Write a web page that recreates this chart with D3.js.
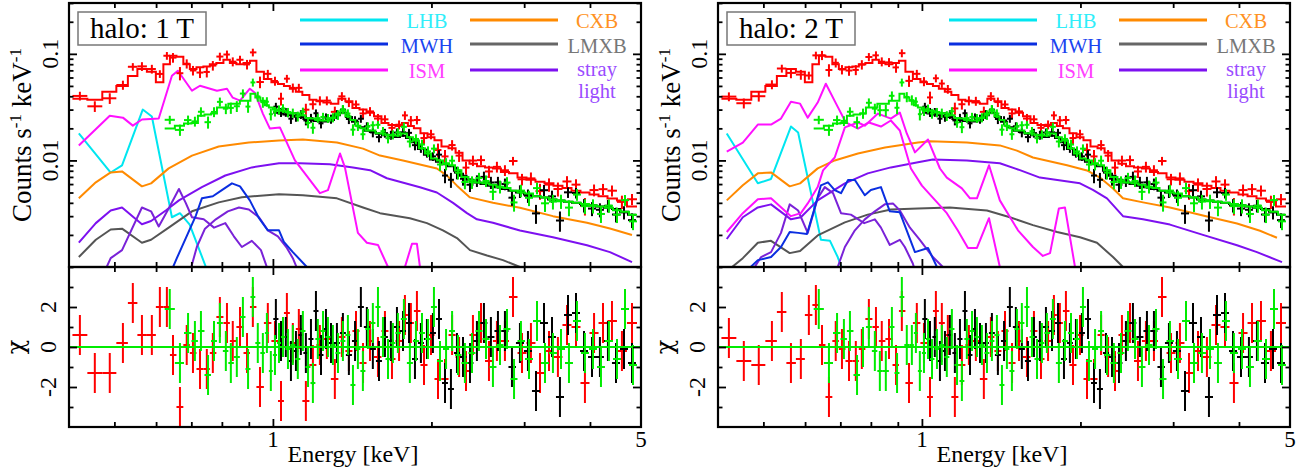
<!DOCTYPE html>
<html>
<head>
<meta charset="utf-8">
<script src="https://cdn.jsdelivr.net/npm/d3@7"></script>
<style>
  body { margin: 0; background: #fff; }
  text { font-family: "Liberation Serif", "Times New Roman", serif; }
</style>
</head>
<body>
<div id="chart"></div>
<script>
// Spectra from three detectors: bin centres (keV), total model (counts/s/keV),
// fractional error, and chi residuals for the 1T fit and the 2T fit
const redE = [0.430, 0.459, 0.490, 0.519, 0.542, 0.564, 0.589, 0.610, 0.629, 0.646, 0.666, 0.686, 0.705, 0.727, 0.749, 0.769, 0.793, 0.818, 0.839, 0.866, 0.893, 0.916, 0.945,
  0.978, 1.009, 1.036, 1.063, 1.091, 1.120, 1.155, 1.191, 1.228, 1.266,
  1.311, 1.352, 1.394, 1.438, 1.483, 1.529, 1.583, 1.632, 1.683, 1.736, 1.781, 1.828, 1.877, 1.936, 1.996, 2.058, 2.122, 2.189, 2.257, 2.326,
  2.398, 2.484, 2.572, 2.663, 2.758, 2.857, 2.972, 3.090, 3.215, 3.344, 3.477, 3.618, 3.763, 3.913, 4.072, 4.235, 4.404, 4.600, 4.807];
const redM = [0.038, 0.037, 0.044, 0.050, 0.062, 0.072, 0.068, 0.054, 0.080, 0.096, 0.094, 0.080, 0.072, 0.075, 0.076, 0.080, 0.082, 0.088, 0.082, 0.080, 0.082, 0.086, 0.068,
  0.058, 0.054, 0.052, 0.050, 0.047, 0.044, 0.041, 0.037, 0.036, 0.035,
  0.034, 0.038, 0.036, 0.031, 0.030, 0.028, 0.026, 0.0225, 0.0215, 0.021, 0.0225, 0.021, 0.020, 0.018, 0.0165, 0.0155, 0.0135, 0.0130, 0.0118, 0.0100,
  0.0093, 0.0088, 0.0086, 0.0084, 0.0078, 0.0076, 0.0069, 0.0066, 0.0063, 0.0061, 0.0058, 0.0055, 0.0052, 0.0050, 0.0048, 0.0046, 0.0044, 0.0042, 0.0037];
const redR = [0.10, 0.10, 0.10, 0.10, 0.10, 0.10, 0.10, 0.10, 0.10, 0.10, 0.10, 0.10, 0.10, 0.10, 0.10, 0.10, 0.10, 0.10, 0.10, 0.10, 0.10, 0.10, 0.10,
  0.10, 0.10, 0.10, 0.10, 0.10, 0.10, 0.10, 0.10, 0.10, 0.10,
  0.10, 0.10, 0.10, 0.10, 0.10, 0.10, 0.10, 0.10, 0.10, 0.10, 0.11, 0.11, 0.11, 0.11, 0.11, 0.12, 0.12, 0.12, 0.12, 0.12,
  0.12, 0.12, 0.12, 0.12, 0.12, 0.12, 0.12, 0.14, 0.14, 0.14, 0.14, 0.14, 0.14, 0.14, 0.14, 0.14, 0.14, 0.14, 0.14];
const redChi1 = [0.6, -1.3, -1.3, 0.2, 2.2, 0.6, 0.6, 2.0, 2.0, -0.4, -3.0, 0.1, -0.3, -1.1, -1.1, -0.3, 1.5, 1.2, 0.3, 1.0, -0.3, 2.0, -2.0,
  1.2, 0.3, -2.7, 1.7, 0.2, 0.9, -2.7, -0.9, 0.1, 0.4,
  -1.6, 0.5, -0.2, 0.8, -0.8, 0.3, -0.5, 0.8, -0.6, 0.3, 1.6, 1.2, 1.8, -0.9, 0.6, -1.6, -1.6, 0.6, -0.5, -1.2,
  0.6, 1.2, -0.7, 0.3, 0.3, 2.5, -0.3, 0.2, -1.3, -0.2, -0.5, 1.1, 1.0, -1.8, 0.7, 1.2, 1.3, -0.2, 1.2];
const redChi2 = [0.45, -0.7, -0.9, 0.3, 1.75, -0.8, -0.6, 1.6, 2.1, 0.1, -2.5, 0.3, -0.1, -0.7, -0.7, -0.1, 1.4, 1.0, 0.3, 0.4, -0.9, 1.8, -1.8,
  1.2, 0.2, -2.5, 1.8, 1.2, 0.6, -2.5, -0.9, 0.1, 0.3,
  -1.6, 0.5, -0.2, 0.8, -0.8, 0.3, -0.5, 0.8, -0.6, 0.3, 1.6, 1.2, 1.8, -0.9, 0.6, -1.6, -1.6, 0.6, -0.5, -1.2,
  0.6, 1.2, -0.7, 0.3, 0.3, 2.5, -0.3, 0.2, -1.3, -0.2, -0.5, 1.1, 1.0, -1.8, 0.7, 1.2, 1.3, -0.2, 1.2];

const greenE = [0.637, 0.666, 0.690, 0.711, 0.730, 0.753, 0.773, 0.793, 0.814, 0.832, 0.854, 0.877, 0.897, 0.916, 0.936, 0.957, 0.974, 0.991, 1.009,
  1.027, 1.045, 1.068, 1.091, 1.115, 1.140, 1.166, 1.191, 1.217, 1.245, 1.272, 1.300, 1.329, 1.358, 1.388, 1.419, 1.450, 1.482, 1.515, 1.548, 1.583, 1.618, 1.654, 1.690, 1.727,
  1.773, 1.820, 1.869, 1.919, 1.970, 2.022, 2.076, 2.132, 2.189, 2.246,
  2.315, 2.388, 2.462, 2.539, 2.617, 2.699, 2.783, 2.870, 2.958, 3.064, 3.173, 3.286, 3.402, 3.524, 3.649, 3.779, 3.913, 4.053, 4.197, 4.346, 4.502, 4.662, 4.828];
const greenM = [0.0199, 0.0212, 0.0222, 0.0225, 0.0263, 0.0270, 0.0276, 0.0313, 0.0313, 0.0341, 0.0341, 0.0364, 0.0364, 0.0423, 0.0390, 0.0364, 0.0330, 0.0313, 0.0300,
  0.0293, 0.0293, 0.0285, 0.0276, 0.0276, 0.0265, 0.0250, 0.0247, 0.0240, 0.0237, 0.0237, 0.0250, 0.0276, 0.0293, 0.0260, 0.0240, 0.0212, 0.0200, 0.0191, 0.0191, 0.0180, 0.0179, 0.0172, 0.0171, 0.0171,
  0.0179, 0.0165, 0.0154, 0.0130, 0.0116, 0.0104, 0.0100, 0.0094, 0.0090, 0.0081,
  0.0070, 0.0065, 0.0062, 0.0061, 0.0059, 0.0056, 0.0055, 0.0052, 0.0050, 0.0049, 0.0046, 0.0045, 0.0043, 0.0042, 0.0041, 0.0040, 0.0039, 0.0038, 0.0037, 0.0036, 0.0034, 0.0033, 0.0031];
const greenR = [0.11, 0.11, 0.11, 0.11, 0.11, 0.11, 0.11, 0.11, 0.11, 0.11, 0.11, 0.11, 0.11, 0.11, 0.11, 0.11, 0.11, 0.11, 0.10,
  0.10, 0.10, 0.10, 0.10, 0.10, 0.10, 0.10, 0.10, 0.10, 0.10, 0.10, 0.10, 0.10, 0.10, 0.10, 0.10, 0.10, 0.10, 0.10, 0.10, 0.10, 0.10, 0.10, 0.10, 0.10,
  0.11, 0.11, 0.11, 0.12, 0.12, 0.12, 0.12, 0.13, 0.13, 0.13,
  0.13, 0.13, 0.13, 0.13, 0.14, 0.14, 0.14, 0.14, 0.14, 0.15, 0.15, 0.15, 0.15, 0.15, 0.15, 0.15, 0.15, 0.15, 0.15, 0.15, 0.15, 0.15, 0.15];
const greenChi1 = [1.9, -0.8, 0.7, 0.3, 0.8, -1.4, 0.3, 1.2, -0.2, -0.8, -0.5, 1.5, -1.1, 2.5, 0.2, -0.3, 0.7, -1.2, -0.4,
  0.2, 0.5, -0.1, 0.1, -0.6, 0.8, -1.0, -1.8, 0.4, 0.8, 0.5, 0.1, -0.3, 0.3, 0.6, -1.9, -0.1, -1.2, 0.9, 1.2, 2.0, 0.5, -0.6, 0.2, 0.7,
  1.4, -0.8, 0.3, 0.7, 0.4, 2.0, -0.7, -0.1, 0.8, -0.4,
  -0.8, -0.3, 0.8, 0.4, -1.0, 0.1, 0.9, -1.6, 0.3, -0.6, 1.3, -0.8, -0.3, -0.1, -0.8, 1.3, -0.3, -0.1, -1.0, 0.3, -0.6, 1.9, -0.9];
const greenChi2 = [1.9, -0.8, 0.7, 0.4, 0.8, -1.4, 0.0, 1.0, -0.2, -1.2, -1.2, 1.0, -1.3, 2.5, 0.1, 0.1, 0.7, -1.2, -0.3,
  0.4, -0.6, -0.1, 0.1, -0.5, 0.9, -0.9, -1.7, 0.4, 0.8, 0.5, 0.1, -0.3, 0.3, 0.6, -1.9, -0.1, -1.2, 0.9, 1.2, 2.0, 0.5, -0.6, 0.2, 0.7,
  1.4, -0.8, 0.3, 0.7, 0.4, 2.0, -0.7, -0.1, 0.8, -0.4,
  -0.8, -0.3, 0.8, 0.4, -1.0, 0.1, 0.9, -1.6, 0.3, -0.6, 1.3, -0.8, -0.3, -0.1, -0.8, 1.3, -0.3, -0.1, -1.0, 0.3, -0.6, 1.9, -0.9];

const blackE = [1.013, 1.036, 1.058, 1.082, 1.106, 1.130, 1.155, 1.181, 1.207, 1.234, 1.261, 1.289,
  1.323, 1.358, 1.394, 1.432, 1.469, 1.508, 1.548, 1.590, 1.632, 1.675, 1.720, 1.766, 1.813, 1.861, 1.910, 1.961, 2.013, 2.067, 2.122, 2.178, 2.236, 2.296,
  2.367, 2.440, 2.516, 2.594, 2.675, 2.758, 2.844, 2.945, 3.050, 3.159, 3.272, 3.388, 3.508, 3.634, 3.763, 3.897, 4.036, 4.178, 4.327, 4.482, 4.642, 4.807];
const blackM = [0.0280, 0.0275, 0.0270, 0.0265, 0.0262, 0.0255, 0.0245, 0.0240, 0.0235, 0.0232, 0.0232, 0.0240,
  0.0265, 0.0280, 0.0255, 0.0230, 0.0205, 0.0190, 0.0185, 0.0178, 0.0172, 0.0168, 0.0166, 0.0170, 0.0162, 0.0148, 0.0128, 0.0113, 0.0102, 0.0097, 0.0092, 0.0088, 0.0080, 0.0072,
  0.0066, 0.0062, 0.0060, 0.0058, 0.0056, 0.0054, 0.0052, 0.0050, 0.0048, 0.0046, 0.0045, 0.0043, 0.0042, 0.0041, 0.0040, 0.0039, 0.0038, 0.0037, 0.0036, 0.0035, 0.0033, 0.0031];
const blackR = [0.10, 0.10, 0.10, 0.10, 0.10, 0.10, 0.10, 0.10, 0.10, 0.10, 0.10, 0.10,
  0.10, 0.10, 0.10, 0.10, 0.10, 0.10, 0.10, 0.10, 0.10, 0.10, 0.10, 0.10, 0.10, 0.10, 0.10, 0.10, 0.10, 0.12, 0.12, 0.12, 0.13, 0.13,
  0.13, 0.13, 0.14, 0.14, 0.14, 0.14, 0.14, 0.14, 0.14, 0.14, 0.14, 0.14, 0.14, 0.14, 0.14, 0.14, 0.14, 0.14, 0.14, 0.14, 0.14, 0.14];
const blackChi = [1.4, 0.3, 0.5, -0.7, -0.2, 0.6, -0.3, 0.4, 1.8, -0.4, 0.9, 0.2,
  0.2, 0.7, -0.4, 0.3, 2.0, 1.0, -0.1, -0.7, 0.5, 0.3, 1.0, 0.8, 1.2, -0.6, 0.2, 0.4, 0.7, 1.4, -1.8, -2.1, -0.3, -0.5,
  -0.8, 0.3, 1.2, 0.5, 0.8, 0.8, -1.0, 0.2, -0.2, -2.2, 1.2, 0.5, -2.5, 1.6, 1.7, -0.2, -0.5, -0.5, 0.3, -0.8, -0.1, -0.8];

// Model components [keV, counts/s/keV], fit with a 1T halo
const lhb1 = [[0.428,0.0179],[0.492,0.0077],[0.517,0.0090],[0.566,0.0300],[0.589,0.0258],[0.643,0.00293],[0.666,0.0032],[0.695,0.0025],[0.746,0.0010],[0.776,0.00068]];
const mwh1 = [[0.631,0.00076],[0.657,0.00121],[0.687,0.00198],[0.714,0.00304],[0.733,0.00441],[0.769,0.00461],[0.800,0.00527],[0.836,0.00609],[0.866,0.00571],[0.904,0.00422],[0.941,0.00287],[0.978,0.00221],[1.027,0.00221],[1.049,0.00172],[1.091,0.00138],[1.160,0.0010],[1.202,0.00076]];
const ism1 = [[0.428,0.0138],[0.490,0.0263],[0.519,0.0252],[0.542,0.0212],[0.564,0.0242],[0.607,0.0247],[0.643,0.0623],[0.660,0.0694],[0.702,0.0451],[0.727,0.0502],[0.783,0.0451],[0.818,0.0471],[0.839,0.0388],[0.866,0.0364],[0.904,0.0471],[0.924,0.0432],[0.957,0.0275],[0.987,0.0199],[1.031,0.0204],[1.101,0.0100],[1.228,0.00493],[1.272,0.00527],[1.341,0.0116],[1.370,0.0086],[1.450,0.00209],[1.508,0.00169],[1.583,0.00161],[1.654,0.0010],[1.720,0.0005],[1.781,0.0010],[1.837,0.00165],[1.877,0.00165],[1.902,0.0010],[1.970,0.0005]];
const cxb1 = [[0.428,0.00441],[0.461,0.00623],[0.492,0.00772],[0.517,0.00789],[0.564,0.00571],[0.587,0.00609],[0.634,0.00842],[0.702,0.0111],[0.789,0.0135],[0.900,0.0147],[1.027,0.0154],[1.140,0.0157],[1.323,0.0147],[1.483,0.0129],[1.597,0.0111],[1.766,0.0100],[2.048,0.0084],[2.141,0.0072],[2.236,0.0058],[2.367,0.0045],[2.617,0.0040],[2.945,0.0036],[3.402,0.0030],[3.948,0.0026],[4.365,0.0023],[4.807,0.0020]];
const lmxb1 = [[0.428,0.00124],[0.461,0.00180],[0.492,0.00225],[0.517,0.00229],[0.564,0.00169],[0.587,0.00180],[0.634,0.00234],[0.702,0.00333],[0.789,0.00404],[0.873,0.00451],[1.027,0.00482],[1.140,0.00471],[1.323,0.00441],[1.483,0.00362],[1.597,0.00320],[1.820,0.00287],[1.961,0.00258],[2.103,0.00221],[2.236,0.00187],[2.367,0.00144],[2.550,0.00128],[2.734,0.00116],[2.945,0.0010],[3.215,0.00084]];
const stray1 = [[0.428,0.00169],[0.461,0.00258],[0.492,0.00339],[0.517,0.00362],[0.564,0.00252],[0.587,0.0027],[0.626,0.00339],[0.663,0.00422],[0.733,0.00562],[0.812,0.00722],[0.912,0.0086],[1.027,0.0094],[1.125,0.0094],[1.283,0.0092],[1.419,0.0086],[1.529,0.0081],[1.646,0.0068],[1.902,0.0056],[2.048,0.0050],[2.198,0.0040],[2.336,0.0032],[2.440,0.0028],[2.617,0.0026],[2.945,0.0022],[3.402,0.0019],[3.948,0.0016],[4.365,0.00138],[4.807,0.00111]];
const strayB1 = [[0.461,0.0006],[0.492,0.00121],[0.517,0.00144],[0.564,0.00362],[0.587,0.00333],[0.607,0.0024],[0.634,0.00354],[0.663,0.0054],[0.683,0.0040],[0.702,0.00293],[0.739,0.0028],[0.773,0.00234],[0.812,0.00258],[0.843,0.00194],[0.873,0.00154],[0.912,0.00176],[0.949,0.00144],[0.978,0.00094],[1.009,0.0006]];
const strayC1 = [[0.680,0.0006],[0.717,0.00154],[0.743,0.00229],[0.779,0.0028],[0.821,0.00333],[0.862,0.00362],[0.900,0.00346],[0.941,0.00293],[0.978,0.00221],[1.022,0.00194],[1.063,0.00151],[1.091,0.00121],[1.125,0.00084]];

// Model components, fit with a 2T halo
const lhb2 = [[0.426,0.0179],[0.488,0.0061],[0.517,0.0067],[0.564,0.0208],[0.582,0.0183],[0.643,0.0018],[0.669,0.00176],[0.692,0.00124],[0.711,0.00086]];
const mwh2 = [[0.457,0.0008],[0.473,0.0010],[0.488,0.00116],[0.517,0.00124],[0.540,0.00154],[0.561,0.00213],[0.582,0.00209],[0.605,0.00204],[0.626,0.00362],[0.643,0.00584],[0.663,0.00623],[0.683,0.00527],[0.702,0.00493],[0.724,0.00656],[0.746,0.00656],[0.779,0.00471],[0.800,0.00527],[0.836,0.00562],[0.869,0.00333],[0.908,0.00326],[0.970,0.00138],[1.027,0.00151],[1.068,0.0010],[1.101,0.00076]];
const ismA2 = [[0.426,0.0121],[0.457,0.0147],[0.488,0.0217],[0.517,0.0217],[0.540,0.0247],[0.564,0.0356],[0.587,0.0341],[0.607,0.0252],[0.634,0.0349],[0.657,0.0524],[0.687,0.0341],[0.717,0.0227],[0.756,0.0199],[0.793,0.0227],[0.836,0.0208],[0.873,0.0237],[0.908,0.0191],[0.953,0.0084],[1.000,0.0058],[1.115,0.0032],[1.170,0.0022],[1.223,0.00151],[1.272,0.00151],[1.341,0.00287],[1.406,0.0010],[1.438,0.00068]];
const ismB2 = [[0.426,0.00213],[0.457,0.0032],[0.488,0.00432],[0.517,0.00441],[0.564,0.0030],[0.589,0.0032],[0.607,0.00395],[0.634,0.00562],[0.649,0.00806],[0.683,0.01065],[0.714,0.0204],[0.756,0.0227],[0.779,0.0212],[0.825,0.0275],[0.873,0.0247],[0.908,0.0281],[0.936,0.0179],[0.970,0.0119],[1.027,0.0157],[1.082,0.0084],[1.115,0.0069],[1.191,0.00546],[1.234,0.00441],[1.272,0.00441],[1.341,0.0090],[1.406,0.00422],[1.522,0.00221],[1.625,0.00154],[1.697,0.00127],[1.751,0.00135],[1.820,0.00354],[1.869,0.00362],[1.953,0.0010],[2.004,0.0006]];
const cxb2 = [[0.426,0.00422],[0.457,0.00584],[0.488,0.00756],[0.517,0.00772],[0.561,0.00571],[0.587,0.00609],[0.634,0.00842],[0.683,0.0100],[0.756,0.01162],[0.851,0.01322],[0.983,0.01475],[1.036,0.0151],[1.217,0.01475],[1.406,0.01383],[1.515,0.01236],[1.625,0.01065],[1.886,0.0090],[2.058,0.00806],[2.178,0.00691],[2.306,0.00546],[2.409,0.00441],[2.629,0.00404],[2.958,0.00362],[3.417,0.00304],[3.966,0.00256],[4.385,0.00219],[4.723,0.00188]];
const lmxb2 = [[0.426,0.00091],[0.457,0.00121],[0.488,0.00169],[0.517,0.00176],[0.561,0.00135],[0.587,0.00141],[0.634,0.00198],[0.714,0.00262],[0.789,0.0031],[0.873,0.00346],[0.983,0.00354],[1.130,0.00362],[1.329,0.00339],[1.469,0.00293],[1.625,0.00247],[1.806,0.00213],[1.996,0.0019],[2.150,0.00169],[2.306,0.00124],[2.409,0.0010],[2.473,0.00084]];
const stray2 = [[0.426,0.00183],[0.457,0.00293],[0.488,0.00362],[0.517,0.00387],[0.564,0.0028],[0.589,0.00293],[0.634,0.00422],[0.714,0.00609],[0.789,0.00756],[0.873,0.0086],[0.983,0.0096],[1.049,0.0102],[1.217,0.0100],[1.406,0.0094],[1.535,0.0081],[1.675,0.0069],[1.996,0.0061],[2.112,0.0053],[2.246,0.0044],[2.409,0.0030],[2.629,0.0028],[2.958,0.0025],[3.417,0.0020],[3.966,0.0016],[4.327,0.00138],[4.723,0.00116],[4.828,0.00111]];
const strayB2 = [[0.461,0.0006],[0.480,0.00098],[0.495,0.00124],[0.517,0.00138],[0.540,0.00209],[0.561,0.00387],[0.582,0.00339],[0.607,0.00209],[0.634,0.00441],[0.654,0.00562],[0.678,0.00493],[0.702,0.0032],[0.733,0.0031],[0.777,0.00258],[0.814,0.0028],[0.836,0.00234],[0.869,0.00161],[0.908,0.0018],[0.928,0.00154],[0.961,0.00108],[0.996,0.0006]];
const strayC2 = [[0.680,0.0006],[0.692,0.0010],[0.714,0.00154],[0.746,0.00221],[0.779,0.0028],[0.814,0.00333],[0.850,0.00387],[0.881,0.00395],[0.908,0.00339],[0.949,0.00234],[0.991,0.0018],[1.049,0.00124],[1.096,0.0010],[1.125,0.00076]];

// Axis labels and ticks
const xLabels = [1, 5];
const yTopLabels = [[0.1, "0.1"], [0.01, "0.01"]];
const chiLabels = [[2, "2"], [0, "0"], [-2, "-2"]];
const chiMinor = [-3, -1, 1, 3];

//Colours
const col = {lhb: "#00e6f0", mwh: "#0a2ee0", ism: "#ff10ff", cxb: "#ff8a00", lmxb: "#555555", stray: "#7d10f0", stray2: "#7a22d8",
  red: "#ff0000", green: "#00ec00", black: "#000000"};

const width = 1307;
const height = 473;
const pw = 572;
const topY = [3, 267];
const resY = [267, 427];

const svg = d3.select("#chart").append("svg").attr("width", width).attr("height", height);

//Bin edges half way (in log) between neighbouring centres
function binEdges(E) {
    return E.map((e, i) => {
        const lo = i > 0 ? Math.sqrt(E[i - 1] * e) : e * e / Math.sqrt(e * E[i + 1]);
        const hi = i < E.length - 1 ? Math.sqrt(e * E[i + 1]) : e * e / Math.sqrt(E[i - 1] * e);
        return [lo, hi];
    });
}

function drawPanel(x0, title, chis, comps, idx) {
    const x = d3.scaleLog().domain([0.41, 5]).range([x0, x0 + pw]);
    const y = d3.scaleLog().domain([0.001, 0.3]).range([topY[1], topY[0]]);
    const yc = d3.scaleLinear().domain([-4, 4]).range([resY[1], resY[0]]);

    const defs = svg.append("defs");
    defs.append("clipPath").attr("id", "ct" + idx).append("rect")
        .attr("x", x0).attr("y", topY[0]).attr("width", pw).attr("height", topY[1] - topY[0]);
    defs.append("clipPath").attr("id", "cr" + idx).append("rect")
        .attr("x", x0).attr("y", resY[0]).attr("width", pw).attr("height", resY[1] - resY[0]);

    const top = svg.append("g").attr("clip-path", `url(#ct${idx})`);
    const res = svg.append("g").attr("clip-path", `url(#cr${idx})`);

    //Model components
    const line = d3.line().x(d => x(d[0])).y(d => y(d[1]));
    comps.forEach(c => {
        top.append("path").attr("d", line(c.data)).attr("fill", "none")
            .attr("stroke", c.color).attr("stroke-width", 2).attr("stroke-linejoin", "round");
    });

    //Data sets: step model, crosses, residuals
    const sets = [
        {E: redE, M: redM, R: redR, C: chis.red, color: col.red},
        {E: blackE, M: blackM, R: blackR, C: chis.black, color: col.black},
        {E: greenE, M: greenM, R: greenR, C: chis.green, color: col.green}
    ];
    sets.forEach(s => {
        const edges = binEdges(s.E);
        const step = edges.flatMap((e, i) => [[e[0], s.M[i]], [e[1], s.M[i]]]);
        top.append("path").attr("d", line(step)).attr("fill", "none")
            .attr("stroke", s.color).attr("stroke-width", 2);

        const pts = s.E.map((e, i) => {
            const val = s.M[i] * (1 + s.C[i] * s.R[i]);
            const sig = s.M[i] * s.R[i];
            return {lo: edges[i][0], hi: edges[i][1], e: e, val: val, y0: Math.max(val - sig, 1e-5), y1: val + sig, c: s.C[i]};
        });
        const gt = top.append("g").attr("stroke", s.color).attr("stroke-width", 2);
        gt.selectAll(".h").data(pts).enter().append("line")
            .attr("x1", d => x(d.lo)).attr("x2", d => x(d.hi))
            .attr("y1", d => y(d.val)).attr("y2", d => y(d.val));
        gt.selectAll(".v").data(pts).enter().append("line")
            .attr("x1", d => x(d.e)).attr("x2", d => x(d.e))
            .attr("y1", d => y(d.y0)).attr("y2", d => y(d.y1));

        const gr = res.append("g").attr("stroke", s.color).attr("stroke-width", 2);
        gr.selectAll(".h").data(pts).enter().append("line")
            .attr("x1", d => x(d.lo)).attr("x2", d => x(d.hi))
            .attr("y1", d => yc(d.c)).attr("y2", d => yc(d.c));
        gr.selectAll(".v").data(pts).enter().append("line")
            .attr("x1", d => x(d.e)).attr("x2", d => x(d.e))
            .attr("y1", d => yc(d.c - 1)).attr("y2", d => yc(d.c + 1));
    });

    //zero line
    res.append("line").attr("x1", x0).attr("x2", x0 + pw).attr("y1", yc(0)).attr("y2", yc(0))
        .attr("stroke", col.green).attr("stroke-width", 2);

    //Ticks (inward, all four sides)
    const xMinor = x.ticks().filter(v => !xLabels.includes(v));
    const yAll = y.ticks();
    const yMajor = [0.01, 0.1];
    const yMinor = yAll.filter(v => !yMajor.some(m => Math.abs(m - v) < 1e-9));
    function ticks(axis, pos, vals, size) {
        const g = svg.append("g").attr("transform", pos)
            .call(axis.tickValues(vals).tickSize(-size).tickFormat(""));
        g.select(".domain").remove();
        g.selectAll("line").attr("stroke", "#000").attr("stroke-width", 1.8);
    }
    [topY, resY].forEach(r => {
        ticks(d3.axisBottom(x), `translate(0,${r[1]})`, xMinor, 5);
        ticks(d3.axisBottom(x), `translate(0,${r[1]})`, [1], 8);
        ticks(d3.axisTop(x), `translate(0,${r[0]})`, xMinor, 5);
        ticks(d3.axisTop(x), `translate(0,${r[0]})`, [1], 8);
    });
    ticks(d3.axisLeft(y), `translate(${x0},0)`, yMinor, 4.5);
    ticks(d3.axisLeft(y), `translate(${x0},0)`, yMajor, 8);
    ticks(d3.axisRight(y), `translate(${x0 + pw},0)`, yMinor, 4.5);
    ticks(d3.axisRight(y), `translate(${x0 + pw},0)`, yMajor, 8);
    ticks(d3.axisLeft(yc), `translate(${x0},0)`, chiMinor, 4.5);
    ticks(d3.axisLeft(yc), `translate(${x0},0)`, chiLabels.map(d => d[0]), 8);
    ticks(d3.axisRight(yc), `translate(${x0 + pw},0)`, chiMinor, 4.5);
    ticks(d3.axisRight(yc), `translate(${x0 + pw},0)`, chiLabels.map(d => d[0]), 8);

    //Frames
    svg.append("rect").attr("x", x0).attr("y", topY[0]).attr("width", pw).attr("height", topY[1] - topY[0])
        .attr("fill", "none").attr("stroke", "#000").attr("stroke-width", 2.2);
    svg.append("rect").attr("x", x0).attr("y", resY[0]).attr("width", pw).attr("height", resY[1] - resY[0])
        .attr("fill", "none").attr("stroke", "#000").attr("stroke-width", 2.2);

    //Tick labels
    xLabels.forEach(v => {
        svg.append("text").attr("x", x(v)).attr("y", 447).attr("text-anchor", "middle")
            .style("font-size", "23px").text(v);
    });
    yTopLabels.forEach(d => {
        svg.append("text").attr("transform", `translate(${x0 - 11},${y(d[0])}) rotate(-90)`)
            .attr("text-anchor", "middle").style("font-size", "24px").text(d[1]);
    });
    chiLabels.forEach(d => {
        svg.append("text").attr("transform", `translate(${x0 - 13},${yc(d[0])}) rotate(-90)`)
            .attr("text-anchor", "middle").style("font-size", "24px").text(d[1]);
    });

    //Axis titles
    svg.append("text").attr("x", x0 + 284).attr("y", 462).attr("text-anchor", "middle")
        .style("font-size", "24px").text("Energy [keV]");
    const yl = svg.append("text").attr("transform", `translate(${x0 - 38},135) rotate(-90)`)
        .attr("text-anchor", "middle").style("font-size", "27px");
    yl.append("tspan").text("Counts s");
    yl.append("tspan").attr("dy", -10).style("font-size", "17px").text("-1");
    yl.append("tspan").attr("dy", 10).text(" keV");
    yl.append("tspan").attr("dy", -10).style("font-size", "17px").text("-1");
    svg.append("text").attr("transform", `translate(${x0 - 45},${yc(0)}) rotate(-90)`)
        .attr("text-anchor", "middle").style("font-family", "'DejaVu Serif', serif")
        .style("font-size", "24px").text("χ");

    //Title box
    svg.append("rect").attr("x", x0 + 9).attr("y", 12).attr("width", 128).attr("height", 33)
        .attr("fill", "#fff").attr("stroke", "#777").attr("stroke-width", 1.5);
    svg.append("text").attr("x", x0 + 73).attr("y", 38).attr("text-anchor", "middle")
        .style("font-size", "29px").text(title);

    //Legend
    const legend = [
        {c: col.lhb, t: ["LHB"], col: 0, ly: 20, ty: 28},
        {c: col.mwh, t: ["MWH"], col: 0, ly: 44, ty: 53},
        {c: col.ism, t: ["ISM"], col: 0, ly: 70, ty: 78},
        {c: col.cxb, t: ["CXB"], col: 1, ly: 20, ty: 28},
        {c: "#666", t: ["LMXB"], col: 1, ly: 44, ty: 52.5},
        {c: col.stray, t: ["stray", "light"], col: 1, ly: 70, ty: 75.5}
    ];
    const textCol = {LHB: "#30eefa", MWH: "#1a44f0", ISM: "#ff40ff", CXB: "#ff9222", LMXB: "#777", stray: "#9a4cff"};
    legend.forEach(l => {
        const lx = l.col === 0 ? x0 + 231 : x0 + 401;
        svg.append("line").attr("x1", lx).attr("x2", lx + 88).attr("y1", l.ly).attr("y2", l.ly)
            .attr("stroke", l.c).attr("stroke-width", 3);
        l.t.forEach((t, i) => {
            svg.append("text").attr("x", l.col === 0 ? x0 + 358 : x0 + 528).attr("y", l.ty + i * 22.8)
                .attr("text-anchor", "middle").style("font-size", "20.5px")
                .attr("fill", textCol[l.t[0]]).text(t);
        });
    });
}

drawPanel(69, "halo: 1 T", {red: redChi1, green: greenChi1, black: blackChi}, [
    {data: lhb1, color: col.lhb}, {data: cxb1, color: col.cxb}, {data: lmxb1, color: col.lmxb},
    {data: stray1, color: col.stray}, {data: strayB1, color: col.stray2}, {data: strayC1, color: col.stray2},
    {data: mwh1, color: col.mwh}, {data: ism1, color: col.ism}
], 0);

drawPanel(718, "halo: 2 T", {red: redChi2, green: greenChi2, black: blackChi}, [
    {data: lhb2, color: col.lhb}, {data: cxb2, color: col.cxb}, {data: lmxb2, color: col.lmxb},
    {data: stray2, color: col.stray}, {data: strayB2, color: col.stray2}, {data: strayC2, color: col.stray2},
    {data: mwh2, color: col.mwh}, {data: ismA2, color: col.ism}, {data: ismB2, color: col.ism}
], 1);
</script>
</body>
</html>
